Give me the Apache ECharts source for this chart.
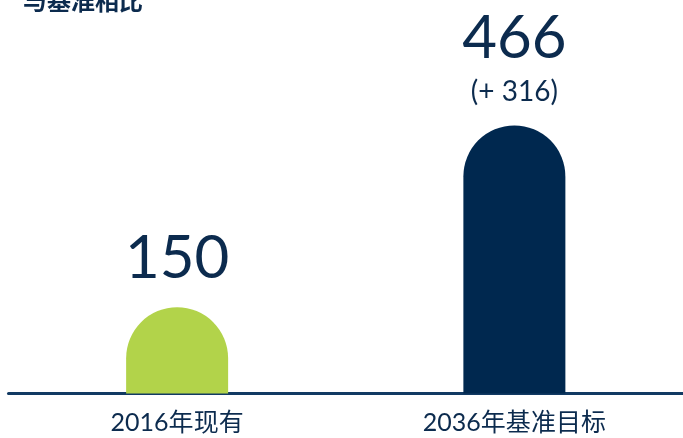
<!DOCTYPE html>
<html>
<head>
<meta charset="utf-8">
<script src="https://cdn.jsdelivr.net/npm/echarts@6/dist/echarts.min.js"></script>
<style>
html,body{margin:0;padding:0;background:#fff;}
#chart{width:683px;height:438px;}
</style>
</head>
<body>
<div id="chart"></div>
<script>
const categories = ['2016年现有', '2036年基准目标'];
const values = [150, 466];
const changeLabels = ['', '(+ 316)'];
const titleText = '与基准相比';

const barColors = ['#b2d34a', '#00284f'];
const navy = '#0c2b4e';

const chart = echarts.init(document.getElementById('chart'));
chart.setOption({
  animation: false,
  title: {
    text: titleText,
    left: 18,
    top: -16,
    textStyle: { fontSize: 24, fontWeight: 'bold', color: navy, fontFamily: 'Noto Sans CJK SC' }
  },
  grid: { left: 8.5, right: -8, top: 0, bottom: 44.5 },
  xAxis: {
    type: 'category',
    data: categories,
    axisLine: { lineStyle: { color: '#123a63', width: 3 } },
    axisTick: { show: false },
    axisLabel: {
      margin: 17,
      fontSize: 25,
      color: navy,
      fontFamily: 'Lato, "Noto Sans CJK SC"'
    }
  },
  yAxis: {
    type: 'value',
    min: 0,
    max: 684,
    show: false,
    splitLine: { show: false }
  },
  series: [{
    type: 'bar',
    barWidth: 102,
    data: values.map((v, i) => ({
      value: v,
      itemStyle: { color: barColors[i], borderRadius: [51, 51, 0, 0] },
      label: { distance: changeLabels[i] ? 18 : 10 }
    })),
    label: {
      show: true,
      position: 'top',
      formatter: p => changeLabels[p.dataIndex]
        ? '{big|' + p.value + '}\n{small|' + changeLabels[p.dataIndex] + '}'
        : '{big|' + p.value + '}',
      rich: {
        big: { fontSize: 60, lineHeight: 78, color: navy, fontFamily: 'Lato' },
        small: { fontSize: 28, lineHeight: 30, color: navy, fontFamily: 'Lato' }
      }
    }
  }]
});
</script>
</body>
</html>
